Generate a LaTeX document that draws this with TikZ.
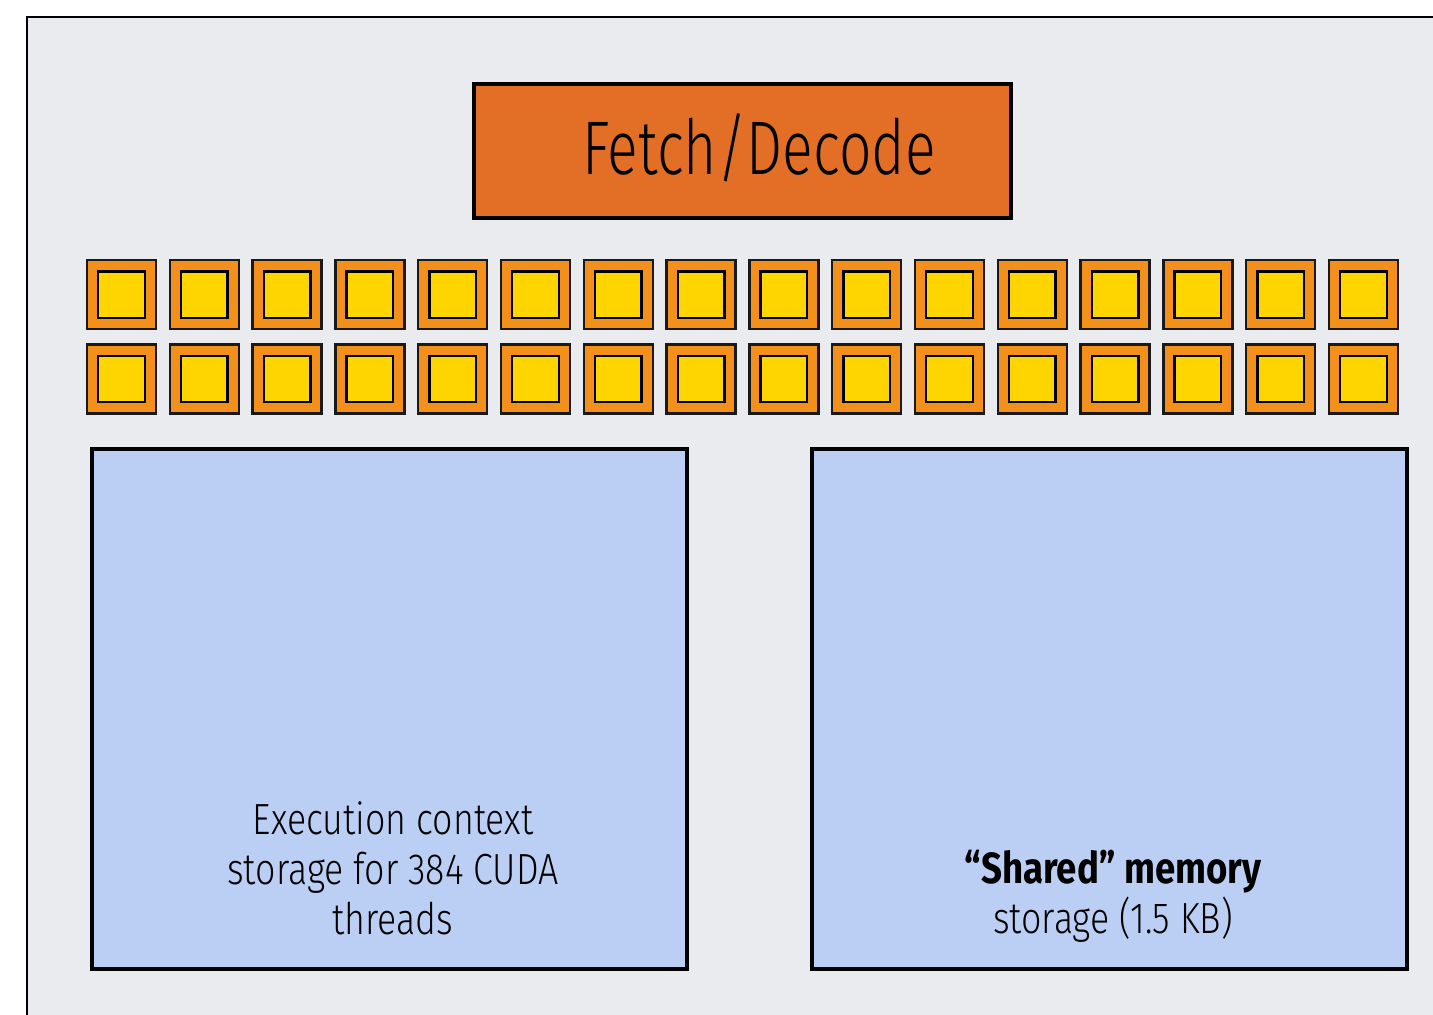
\documentclass[tikz,border=0pt]{standalone}
\usepackage{fontspec}
\usetikzlibrary{positioning}
\newfontfamily\fetchfont[FakeStretch=0.75]{Fira Sans Light}
\newfontfamily\lightcond[FakeStretch=0.82]{Fira Sans Light}
\newfontfamily\boldcond[FakeStretch=0.84]{Fira Sans Bold}
\definecolor{panelbg}{HTML}{EAEBEF}
\definecolor{fetchorange}{HTML}{E36F26}
\definecolor{aluorange}{HTML}{F2901B}
\definecolor{aluyellow}{HTML}{FFD500}
\definecolor{ctxblue}{HTML}{BBCFF5}
\tikzset{
    panel/.style={draw=black, line width=1.3pt, fill=panelbg},
    fetchbox/.style={draw=black, line width=2pt, fill=fetchorange, minimum width=268.5pt, minimum height=67pt, inner sep=0pt},
    fetchtext/.style={font=\fetchfont\fontsize{38}{40}\selectfont, inner sep=0pt, anchor=base},
    aluouter/.style={draw=black!90, line width=1.2pt, fill=aluorange, minimum size=34.5pt, inner sep=0pt},
    aluinner/.style={draw=black, line width=1.2pt, fill=aluyellow, minimum size=23.25pt, inner sep=0pt},
    ctxbox/.style={draw=black, line width=2pt, fill=ctxblue, minimum width=297.5pt, minimum height=260pt, inner sep=0pt},
    boxtext/.style={font=\lightcond\fontsize{21.8}{25}\selectfont, align=center, inner sep=0pt, anchor=base}
}

\begin{document}
\begin{tikzpicture}[x=0.5pt, y=-0.5pt]
        \useasboundingbox (0,0) rectangle (1433,1015);
        \clip (0,0) rectangle (1433,1015);
        \fill[white] (0,0) rectangle (1433,1015);

        % -----------------------------------------------------------------
        % CORE (sfondo)
        % -----------------------------------------------------------------
        \draw[panel] (27,17) rectangle (1470,1050);

        % -----------------------------------------------------------------
        % FETCH/DECODE
        % -----------------------------------------------------------------
        \node[fetchbox] (fetch) at (742.5,151) {};
        \node[fetchtext] (fetchlbl) at (759,175) {Fetch/Decode};

        % -----------------------------------------------------------------
        % ALU (2 x 16)
        % -----------------------------------------------------------------
        \foreach \r [count=\ri] in {294.7,379} {
            \foreach \c in {0,...,15} {
                \node[aluouter] (alu-\ri-\c) at (121.5+82.8*\c, \r) {};
                \node[aluinner] (core-\ri-\c) at (alu-\ri-\c) {};
            }
        }

        % -----------------------------------------------------------------
        % CONTESTI E MEMORIA CONDIVISA
        % -----------------------------------------------------------------
        \node[ctxbox] (ctx) at (389.5,709) {};
        \node[boxtext] (ctxlbl) at (393,934) {Execution context\\storage for 384 CUDA\\threads};

        \node[ctxbox] (shmem) at (1109,709) {};
        \node[boxtext] (shmemlbl) at (1113,933) {{\boldcond “Shared” memory}\\storage (1.5 KB)};

\end{tikzpicture}
\end{document}
